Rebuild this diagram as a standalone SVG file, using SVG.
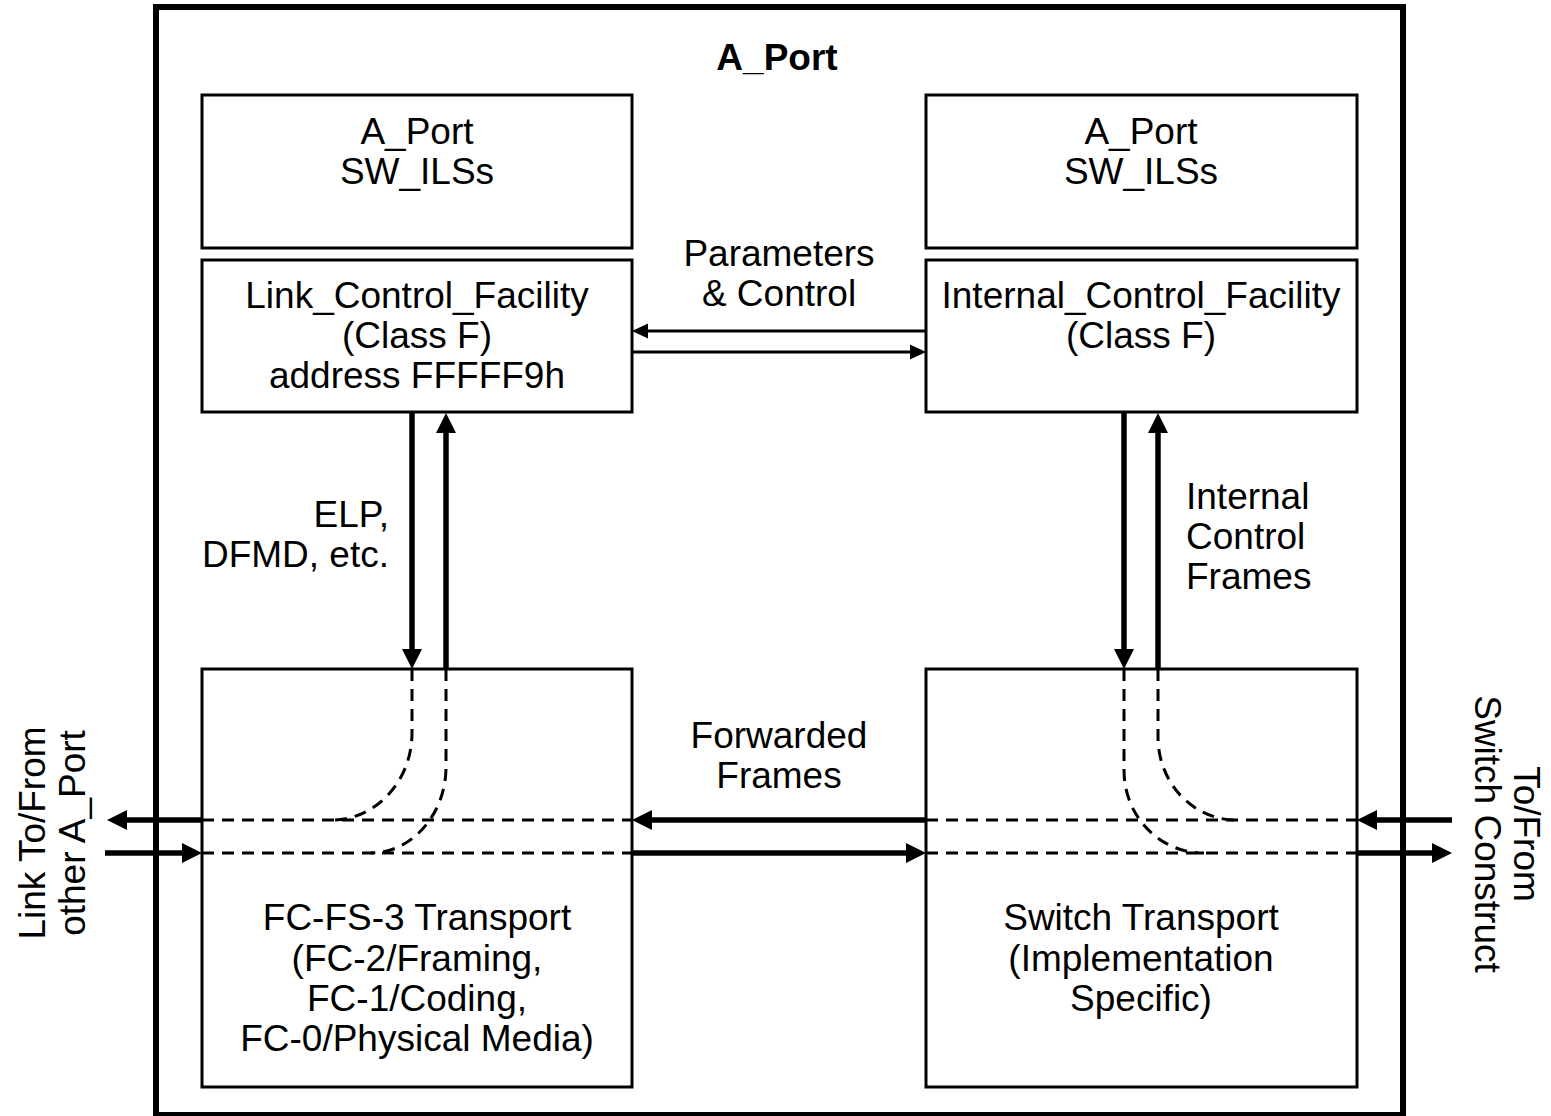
<svg xmlns="http://www.w3.org/2000/svg" width="1551" height="1116" viewBox="0 0 1551 1116">
<style>
text{font-family:"Liberation Sans",Arial,sans-serif;font-size:37px;fill:#000}
.c{text-anchor:middle}
.b{font-weight:bold}
.box{fill:none;stroke:#000;stroke-width:3}
.thick{fill:none;stroke:#000;stroke-width:5.5}
.thin{fill:none;stroke:#000;stroke-width:3}
.dash{fill:none;stroke:#000;stroke-width:3;stroke-dasharray:12 8}
</style>
<defs>
<marker id="ah" markerUnits="userSpaceOnUse" markerWidth="20" markerHeight="20" refX="10" refY="10" orient="auto"><path d="M0,0 L20,10 L0,20 z" fill="#000"/></marker>
<marker id="as" markerUnits="userSpaceOnUse" markerWidth="16" markerHeight="16" refX="8" refY="8" orient="auto"><path d="M0,0.5 L16,8 L0,15.5 z" fill="#000"/></marker>
</defs>
<rect x="0" y="0" width="1551" height="1116" fill="#fff"/>
<g id="frame">
<rect x="156" y="7" width="1247" height="1108" fill="none" stroke="#000" stroke-width="6"/>
<text class="c b" x="777" y="70">A_Port</text>
</g>
<g id="left-ilss">
<rect class="box" x="202" y="95" width="430" height="153"/>
<text class="c" x="417" y="144">A_Port</text>
<text class="c" x="417" y="184">SW_ILSs</text>
</g>
<g id="link-control">
<rect class="box" x="202" y="260" width="430" height="152"/>
<text class="c" x="417" y="308">Link_Control_Facility</text>
<text class="c" x="417" y="348">(Class F)</text>
<text class="c" x="417" y="388">address FFFFF9h</text>
</g>
<g id="right-ilss">
<rect class="box" x="926" y="95" width="431" height="153"/>
<text class="c" x="1141" y="144">A_Port</text>
<text class="c" x="1141" y="184">SW_ILSs</text>
</g>
<g id="internal-control">
<rect class="box" x="926" y="260" width="431" height="152"/>
<text class="c" x="1141" y="308">Internal_Control_Facility</text>
<text class="c" x="1141" y="348">(Class F)</text>
</g>
<g id="fcfs3">
<rect class="box" x="202" y="669" width="430" height="418"/>
<text class="c" x="417" y="930">FC-FS-3 Transport</text>
<text class="c" x="417" y="971">(FC-2/Framing,</text>
<text class="c" x="417" y="1011">FC-1/Coding,</text>
<text class="c" x="417" y="1051">FC-0/Physical Media)</text>
</g>
<g id="switch-transport">
<rect class="box" x="926" y="669" width="431" height="418"/>
<text class="c" x="1141" y="930">Switch Transport</text>
<text class="c" x="1141" y="971">(Implementation</text>
<text class="c" x="1141" y="1011">Specific)</text>
</g>
<g id="connectors">
<line class="thin" x1="926" y1="331" x2="640" y2="331" marker-end="url(#as)"/>
<line class="thin" x1="632" y1="352" x2="918" y2="352" marker-end="url(#as)"/>
<line class="thick" x1="412" y1="413" x2="412" y2="659" marker-end="url(#ah)"/>
<line class="thick" x1="446" y1="669" x2="446" y2="423" marker-end="url(#ah)"/>
<line class="thick" x1="1124" y1="413" x2="1124" y2="659" marker-end="url(#ah)"/>
<line class="thick" x1="1158" y1="669" x2="1158" y2="423" marker-end="url(#ah)"/>
<line class="thick" x1="202" y1="820" x2="117" y2="820" marker-end="url(#ah)"/>
<line class="thick" x1="105" y1="853" x2="192" y2="853" marker-end="url(#ah)"/>
<line class="thick" x1="926" y1="820" x2="642" y2="820" marker-end="url(#ah)"/>
<line class="thick" x1="632" y1="853" x2="916" y2="853" marker-end="url(#ah)"/>
<line class="thick" x1="1452" y1="820" x2="1367" y2="820" marker-end="url(#ah)"/>
<line class="thick" x1="1357" y1="853" x2="1442" y2="853" marker-end="url(#ah)"/>
<line class="dash" x1="202" y1="820" x2="632" y2="820"/>
<line class="dash" x1="202" y1="853" x2="632" y2="853"/>
<line class="dash" x1="926" y1="820" x2="1357" y2="820"/>
<line class="dash" x1="926" y1="853" x2="1357" y2="853"/>
<path class="dash" d="M412,669 V733 C412,781 376,820 332,820"/>
<path class="dash" d="M446,669 V767 C446,814 412,853 371,853"/>
<path class="dash" d="M1124,669 V770 C1124,816 1159,853 1204,853"/>
<path class="dash" d="M1158,669 V737 C1158,783 1193,820 1236,820"/>
</g>
<g id="labels">
<text class="c" x="779" y="266">Parameters</text>
<text class="c" x="779" y="306">&amp; Control</text>
<text x="389" y="527" text-anchor="end">ELP,</text>
<text x="389" y="567" text-anchor="end">DFMD, etc.</text>
<text x="1186" y="509">Internal</text>
<text x="1186" y="549">Control</text>
<text x="1186" y="589">Frames</text>
<text class="c" x="779" y="748">Forwarded</text>
<text class="c" x="779" y="788">Frames</text>
<text class="c" transform="translate(45,833) rotate(-90)">Link To/From</text>
<text class="c" transform="translate(85,833) rotate(-90)">other A_Port</text>
<text class="c" transform="translate(1514,834) rotate(90)">To/From</text>
<text class="c" transform="translate(1475,834) rotate(90)">Switch Construct</text>
</g>
</svg>
